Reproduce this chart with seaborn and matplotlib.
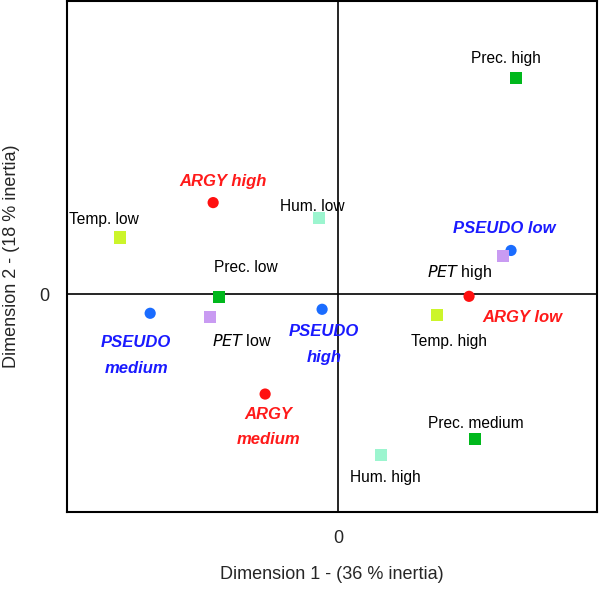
import pandas as pd
import matplotlib.pyplot as plt
import seaborn as sns

# coordinates (arbitrary CA units)
labels = ["Prec. high", "Hum. low", "Temp. low", "ARGY high", "PSEUDO low",
          "PET high", "ARGY low", "Temp. high", "Prec. low", "PET low",
          "PSEUDO\nmedium", "PSEUDO\nhigh", "ARGY\nmedium", "Prec. medium", "Hum. high"]
dim1 = [1.78, -0.19, -2.18, -1.25, 1.73, 1.65, 1.31, 0.99, -1.19, -1.28,
        -1.88, -0.16, -0.73, 1.37, 0.43]
dim2 = [2.17, 0.77, 0.57, 0.92, 0.44, 0.38, -0.02, -0.21, -0.03, -0.23,
        -0.19, -0.15, -1.00, -1.45, -1.61]
group = ["Prec", "Hum", "Temp", "ARGY", "PSEUDO", "PET", "ARGY", "Temp", "Prec", "PET",
         "PSEUDO", "PSEUDO", "ARGY", "Prec", "Hum"]

df = pd.DataFrame({"label": labels, "d1": dim1, "d2": dim2, "group": group})

marker_colors = {"ARGY": "#ff1010", "PSEUDO": "#1a6cff", "Prec": "#00b81c",
                 "Temp": "#ccf52a", "Hum": "#9cf5cf", "PET": "#c99bf2"}
text_colors = {"ARGY": "#ff1a1a", "PSEUDO": "#1a1aff"}

# label offsets in pixels (dx, dy) from each marker
offsets = {"Prec. high": (-10, 19), "Hum. low": (-7, 11), "Temp. low": (-16, 18),
           "ARGY high": (10, 21), "PSEUDO low": (-7, 22), "PET high": (-43, -16),
           "ARGY low": (53, -21), "Temp. high": (12, -26), "Prec. low": (27, 30),
           "PET low": (32, -24), "PSEUDO\nmedium": (-14, -42), "PSEUDO\nhigh": (2, -35),
           "ARGY\nmedium": (3, -33), "Prec. medium": (1, 15), "Hum. high": (4, -23)}

sns.set_theme(style="white")
plt.rcParams["font.family"] = ["Liberation Sans", "DejaVu Sans"]

fig = plt.figure(figsize=(6, 5.95), dpi=100)
ax = fig.add_axes([0.112, 0.14, 0.883, 0.858])

ax.axhline(0, color="black", lw=1.2, zorder=1)
ax.axvline(0, color="black", lw=1.2, zorder=1)

circ = df[df.group.isin(["ARGY", "PSEUDO"])]
sq = df[~df.group.isin(["ARGY", "PSEUDO"])]
sns.scatterplot(data=circ, x="d1", y="d2", hue="group", palette=marker_colors,
                marker="o", s=65, linewidth=0, legend=False, ax=ax, zorder=3)
sns.scatterplot(data=sq, x="d1", y="d2", hue="group", palette=marker_colors,
                marker="s", s=75, linewidth=0, legend=False, ax=ax, zorder=3)

for _, r in df.iterrows():
    dx, dy = offsets[r.label]
    if r.group in text_colors:
        ax.annotate(r.label, (r.d1, r.d2), xytext=(dx, dy), textcoords="offset pixels",
                    ha="center", va="center", color=text_colors[r.group], fontsize=12,
                    fontweight="bold", fontstyle="italic", linespacing=1.9)
    elif r.group == "PET":
        txt = r"$\it{PET}$ " + r.label.split(" ")[1]
        ax.annotate(txt, (r.d1, r.d2), xytext=(dx, dy), textcoords="offset pixels",
                    ha="center", va="center", color="black", fontsize=11.5)
    else:
        ax.annotate(r.label, (r.d1, r.d2), xytext=(dx, dy), textcoords="offset pixels",
                    ha="center", va="center", color="black", fontsize=11.2)

ax.set_xlim(-2.71, 2.59)
ax.set_ylim(-2.18, 2.94)
ax.set_xticks([0])
ax.set_yticks([0])
ax.set_xticklabels(["0"], fontsize=13)
ax.set_yticklabels(["0"], fontsize=13)
ax.tick_params(direction="inout", length=10, width=1.2, color="black", pad=8)
for sp in ax.spines.values():
    sp.set_color("black")
    sp.set_linewidth(1.5)

ax.set_xlabel("Dimension 1 - (36 % inertia)", fontsize=13, labelpad=14)
ax.set_ylabel("Dimension 2 - (18 % inertia)", fontsize=13, labelpad=14)

fig.savefig("out.png", dpi=100)
